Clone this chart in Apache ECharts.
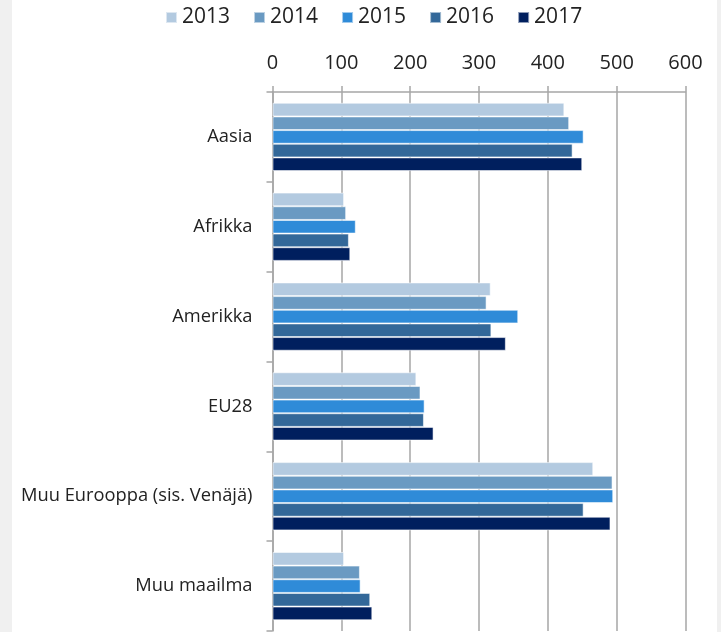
<!DOCTYPE html>
<html><head><meta charset="utf-8">
<script src="https://cdn.jsdelivr.net/npm/echarts@6/dist/echarts.min.js"></script>
<style>html,body{margin:0;padding:0;background:#f0f0f0;overflow:hidden;}#wrap{position:absolute;left:12px;top:0;width:705px;height:632px;background:#fff;}#c{position:absolute;left:0;top:0;width:721px;height:632px;}</style>
</head><body><div id="wrap"></div><div id="c"></div>
<script>
const categories = ['Aasia', 'Afrikka', 'Amerikka', 'EU28', 'Muu Eurooppa (sis. Venäjä)', 'Muu maailma'];
const years = ['2013', '2014', '2015', '2016', '2017'];
const v2013 = [424, 104, 317, 209, 466, 104];
const v2014 = [431, 107, 311, 215, 494, 127];
const v2015 = [452, 121, 357, 221, 495, 128];
const v2016 = [436, 111, 318, 220, 452, 142];
const v2017 = [450, 113, 339, 234, 491, 145];
const xTicks = [0, 100, 200, 300, 400, 500, 600];
const seriesValues = [v2013, v2014, v2015, v2016, v2017];
const colors = ['#b3cae0', '#6a9ac2', '#2f8bd8', '#336899', '#001f5e'];

const chart = echarts.init(document.getElementById('c'), null, {renderer: 'canvas'});
chart.setOption({
  backgroundColor: 'transparent',
  animation: false,
  textStyle: {fontFamily: 'Open Sans, Noto Sans, sans-serif'},
  legend: {
    top: 2, left: 160,
    itemWidth: 11, itemHeight: 11, itemGap: 23,
    icon: 'rect',
    textStyle: {fontSize: 21, color: '#222', fontFamily: 'Open Sans, Noto Sans, sans-serif'},
    data: years
  },
  grid: {left: 272.5, right: 35.5, top: 92, bottom: 1, containLabel: false},
  xAxis: {
    type: 'value', position: 'top', min: xTicks[0], max: xTicks[xTicks.length - 1], interval: 100,
    axisLine: {show: true, lineStyle: {color: '#a6a6a6', width: 1.5}},
    axisTick: {show: true, length: 6, inside: false, lineStyle: {color: '#a6a6a6', width: 1.5}},
    splitLine: {show: true, lineStyle: {color: '#a6a6a6', width: 1.5}},
    axisLabel: {fontSize: 20, color: '#222', margin: 19}
  },
  yAxis: {
    type: 'category', inverse: true, data: categories,
    axisLine: {show: true, lineStyle: {color: '#a6a6a6', width: 1.5}},
    axisTick: {show: true, length: 6, lineStyle: {color: '#a6a6a6', width: 1.5}},
    axisLabel: {fontSize: 18.3, color: '#222', margin: 20}
  },
  series: years.map((y, i) => ({
    name: y, type: 'bar', data: seriesValues[i],
    barGap: '0%', barCategoryGap: '24%',
    itemStyle: {color: colors[i], borderColor: 'rgba(255,255,255,0.55)', borderWidth: 1}
  }))
});
</script></body></html>
